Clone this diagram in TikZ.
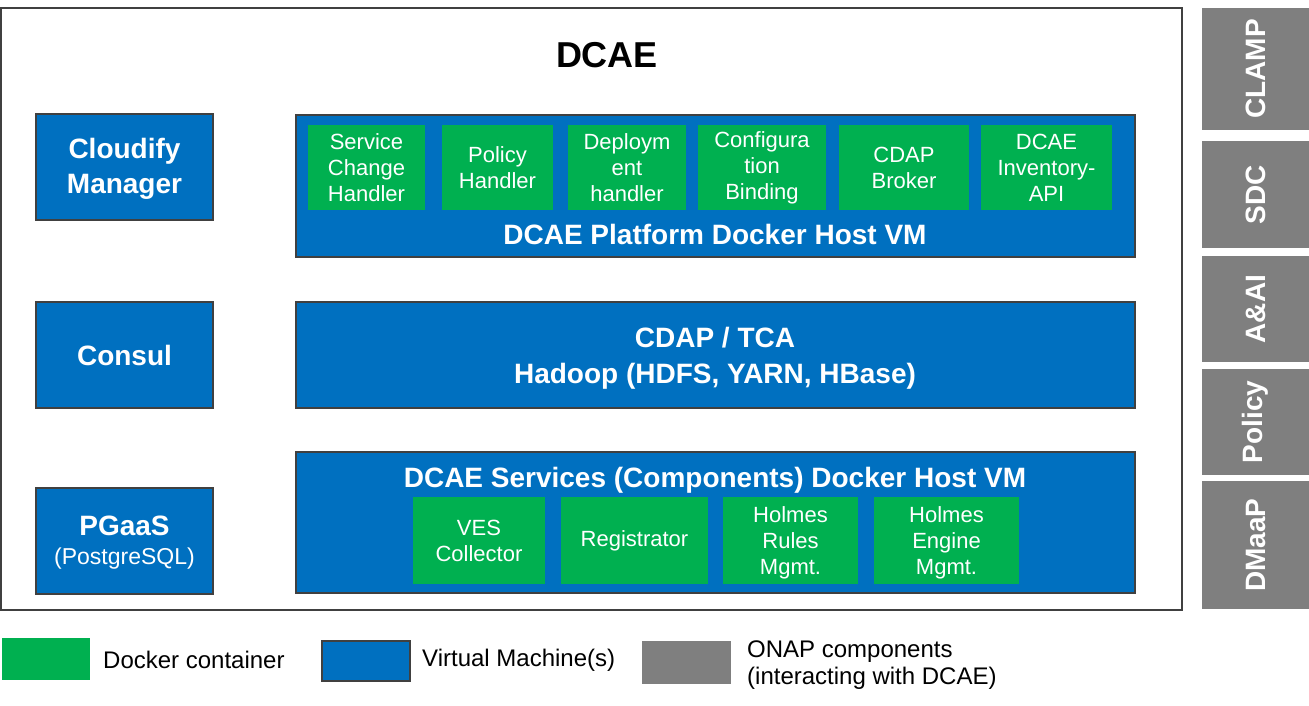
\documentclass[tikz,border=0pt]{standalone}
\usepackage{fontspec}
\setmainfont{Liberation Sans}
\definecolor{vmblue}{HTML}{0070C0}
\definecolor{dkgreen}{HTML}{00B050}
\definecolor{onapgray}{HTML}{7F7F7F}
\definecolor{edgegray}{HTML}{404040}
\tikzset{
  vm/.style={draw=edgegray, line width=2pt, fill=vmblue, text=white, inner sep=0pt, align=center,
    font=\fontsize{28}{35}\selectfont\bfseries},
  docker/.style={fill=dkgreen, text=white, inner sep=0pt, align=center,
    font=\fontsize{22}{26}\selectfont},
  onap/.style={fill=onapgray, text=white, inner sep=0pt, rotate=90,
    font=\fontsize{28}{30}\selectfont\bfseries},
  vmlabel/.style={text=white, inner sep=0pt, align=center, font=\fontsize{28}{35}\selectfont\bfseries},
  legtext/.style={anchor=west, inner sep=0pt, align=left, font=\fontsize{24}{27}\selectfont},
}
\begin{document}
\begin{tikzpicture}[x=1pt, y=-1pt]
\useasboundingbox (0,0) rectangle (1309,705);
% outer DCAE frame
\node[draw=edgegray, line width=2pt, fill=white, minimum width=1181, minimum height=602, inner sep=0pt] (dcae) at (591.5,309) {};
\node[inner sep=0pt, font=\fontsize{36}{40}\selectfont\bfseries] (title) at (607,55) {DCAE};
% left VMs
\node[vm, minimum width=177, minimum height=106] (cloudify) at (124.5,167) {};
\node[vmlabel] (cloudifyt) at (124.5,169) {Cloudify\\Manager};
\node[vm, minimum width=177, minimum height=106] (consul) at (124.5,355) {Consul};
\node[vm, minimum width=177, minimum height=106] (pgaas) at (124.5,541) {};
\node[vmlabel, font=\fontsize{28}{29}\selectfont\bfseries] (pgaast) at (124.5,543) {PGaaS\\{\fontsize{23}{24}\selectfont\mdseries(PostgreSQL)}};
% platform VM
\node[vm, minimum width=839, minimum height=142] (platform) at (715.5,186) {};
\node[vmlabel] (platlabel) at (715,234) {DCAE Platform Docker Host VM};
\node[docker, minimum width=117, minimum height=85] (sch) at (366.5,167.5) {Service\\Change\\Handler};
\node[docker, minimum width=111, minimum height=85] (ph) at (497.5,167.5) {Policy\\Handler};
\node[docker, minimum width=118, minimum height=85] (dh) at (627,167.5) {Deploym\\ent\\handler};
\node[docker, minimum width=128, minimum height=85] (cb) at (762,167.5) {Configura\\tion\\Binding};
\node[docker, minimum width=130, minimum height=85] (cdapb) at (904,167.5) {CDAP\\Broker};
\node[docker, minimum width=131, minimum height=85] (inv) at (1046.5,167.5) {DCAE\\Inventory-\\API};
% CDAP VM
\node[vm, minimum width=839, minimum height=106] (cdap) at (715.5,355) {};
\node[vmlabel, font=\fontsize{28}{36}\selectfont\bfseries] (cdaplabel) at (715,358) {CDAP / TCA\\Hadoop (HDFS, YARN, HBase)};
% services VM
\node[vm, minimum width=839, minimum height=141] (services) at (715.5,522.5) {};
\node[vmlabel] (servlabel) at (715,480) {DCAE Services (Components) Docker Host VM};
\node[docker, minimum width=132, minimum height=87] (ves) at (479,540.5) {VES\\Collector};
\node[docker, minimum width=147, minimum height=87] (reg) at (634.5,540.5) {Registrator};
\node[docker, minimum width=135, minimum height=87] (hrm) at (790.5,540.5) {};
\node[docker, minimum width=145, minimum height=87] (hem) at (946.5,540.5) {};
\node[docker, fill=none] (hrmt) at (790.5,543) {Holmes\\Rules\\Mgmt.};
\node[docker, fill=none] (hemt) at (946.5,543) {Holmes\\Engine\\Mgmt.};
% ONAP components
\node[onap, minimum width=122, minimum height=107] (clamp) at (1255.5,69) {CLAMP};
\node[onap, minimum width=107, minimum height=107] (sdc) at (1255.5,194.5) {SDC};
\node[onap, minimum width=106, minimum height=107] (aai) at (1255.5,309) {A\&AI};
\node[onap, minimum width=106, minimum height=107] (policy) at (1255.5,422) {Policy};
\node[onap, minimum width=128, minimum height=107] (dmaap) at (1255.5,545) {DMaaP};
% legend
\node[fill=dkgreen, minimum width=88, minimum height=42, inner sep=0pt] (lgreen) at (46,659) {};
\node[legtext] (lgreent) at (103,660) {Docker container};
\node[draw=edgegray, line width=2pt, fill=vmblue, minimum width=88, minimum height=40, inner sep=0pt] (lblue) at (366,661) {};
\node[legtext] (lbluet) at (422,660) {Virtual Machine(s)};
\node[fill=onapgray, minimum width=89, minimum height=43, inner sep=0pt] (lgray) at (686.5,662.5) {};
\node[legtext] (lgrayt) at (747,665) {ONAP components\\(interacting with DCAE)};
\end{tikzpicture}
\end{document}
